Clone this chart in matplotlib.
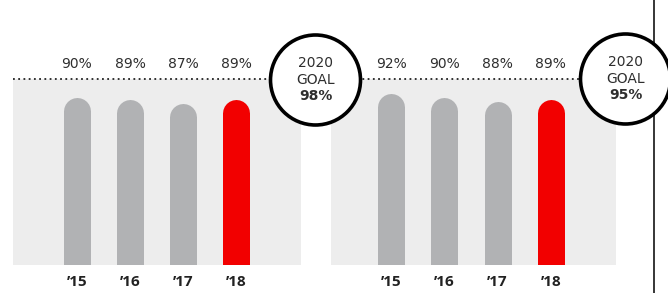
import matplotlib.pyplot as plt
from matplotlib.patches import Circle

# ------------------------------------------------------------
# Data
# ------------------------------------------------------------
years       = ["\u201915", "\u201916", "\u201917", "\u201918"]
left_vals   = [90, 89, 87, 89]
right_vals  = [92, 90, 88, 89]
left_goal   = "98%"
right_goal  = "95%"

GREY = "#B1B2B4"
RED  = "#F20000"
BG   = "#EDEDED"
TXT  = "#2E2E2E"

plt.rcParams["font.family"] = ["DejaVu Sans"]
YEAR_FONT = ["Open Sans", "DejaVu Sans"]

W, H = 668, 293
fig = plt.figure(figsize=(W / 100, H / 100), dpi=100)


def px_axes(x0, x1, y_top, y_bot):
    # pixel box -> figure fraction
    return fig.add_axes([x0 / W, 1 - y_bot / H, (x1 - x0) / W, (y_bot - y_top) / H])


def draw_panel(ax, vals, xpad_left, xpad_right):
    ax.set_facecolor(BG)
    for s in ax.spines.values():
        s.set_visible(False)
    ax.set_xlim(-xpad_left, len(vals) - 1 + xpad_right)
    ax.set_ylim(0, 100)
    ax.set_yticks([])

    # bar width 27 px, rounded top -> round-capped thick line
    bar_px = 27
    h_px = ax.get_position().height * H
    cap = (bar_px / 2) / (h_px / 100)
    for i, v in enumerate(vals):
        col = RED if i == len(vals) - 1 else GREY
        ax.plot([i, i], [-20, v - cap], color=col, lw=bar_px * 0.72,
                solid_capstyle="round", zorder=3)
        ax.annotate(f"{v}%", xy=(i, 100), xytext=(0, 15), textcoords="offset pixels",
                    ha="center", va="center", fontsize=10, color=TXT,
                    family="DejaVu Sans", annotation_clip=False)

    # dotted goal line along the top
    ax.plot([-xpad_left, len(vals) - 1 + xpad_right], [100, 100], color="#222222",
            lw=1.3, linestyle=(0, (1, 1.9)), clip_on=False, zorder=4)

    ax.set_xticks(range(len(vals)))
    ax.set_xticklabels(years, fontsize=11, fontweight="bold", color="#222222",
                       family=YEAR_FONT)
    ax.tick_params(axis="x", length=0, pad=7)


ax1 = px_axes(13, 301, 79, 265)
draw_panel(ax1, left_vals, 64 / 53, 65 / 53)

ax2 = px_axes(331, 616, 79, 265)
draw_panel(ax2, right_vals, 60 / 53, 65 / 53)

# ------------------------------------------------------------
# Overlay in pixel space: goal circles + right rule
# ------------------------------------------------------------
ov = fig.add_axes([0, 0, 1, 1], zorder=10)
ov.set_xlim(0, W)
ov.set_ylim(H, 0)
ov.axis("off")
ov.patch.set_alpha(0)

ov.plot([654, 654], [0, H], color="black", lw=1.1, zorder=1)

for (cx, cy), goal in [((315.5, 80), left_goal), ((625.5, 79), right_goal)]:
    ov.add_patch(Circle((cx, cy), 45, facecolor="white", edgecolor="black",
                        lw=2.6, zorder=2, clip_on=False))
    ov.text(cx, cy - 17, "2020", ha="center", va="center", fontsize=10,
            family="DejaVu Sans", color=TXT, zorder=3)
    ov.text(cx, cy, "GOAL", ha="center", va="center", fontsize=10,
            family="DejaVu Sans", color=TXT, zorder=3)
    ov.text(cx, cy + 16, goal, ha="center", va="center", fontsize=10,
            family="DejaVu Sans", fontweight="bold", color=TXT, zorder=3)

fig.savefig("out.png", dpi=100)
